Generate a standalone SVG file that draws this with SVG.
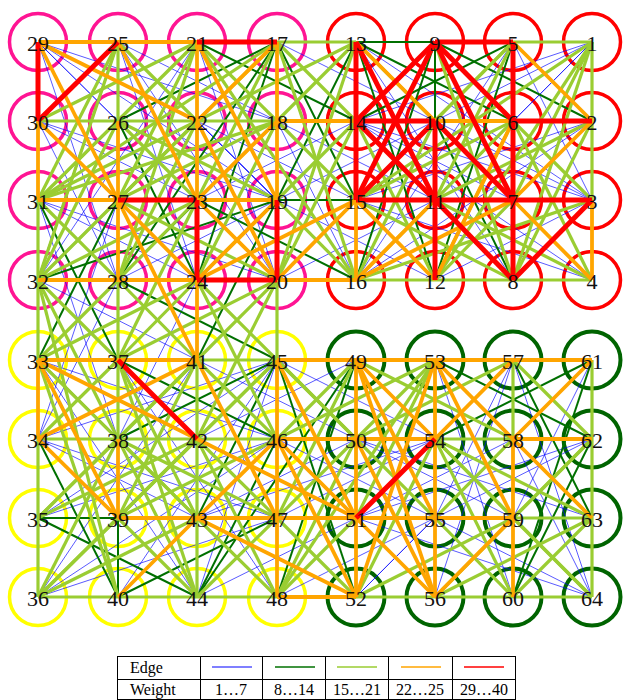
<svg xmlns="http://www.w3.org/2000/svg" width="625" height="700" viewBox="0 0 625 700">
<style>
.b{stroke:#0000ff;stroke-width:1;stroke-opacity:.65}
.g{stroke:#007000;stroke-width:2}
.l{stroke:#9acd32;stroke-width:3.2}
.o{stroke:#ffa500;stroke-width:3.8}
.r{stroke:#ff0000;stroke-width:5}
circle{fill:none;stroke-width:3.5}
.p{stroke:#ff1493}
.rd{stroke:#ff0000}
.y{stroke:#ffff00}
.dg{stroke:#006400;stroke-width:4}
text{font-family:"Liberation Serif","Times New Roman","DejaVu Serif",serif}
.node text{font-size:22px;text-anchor:middle;fill:#111}
.lg text{font-size:16px;fill:#000}
.lg line.t{stroke:#000;stroke-width:1}
</style>
<rect width="625" height="700" fill="#fff"/>
<g id="rings">
<circle class="p" cx="38" cy="42" r="28.5"/><circle class="p" cx="118" cy="42" r="28.5"/><circle class="p" cx="197" cy="42" r="28.5"/><circle class="p" cx="277" cy="42" r="28.5"/>
<circle class="p" cx="38" cy="121" r="28.5"/><circle class="p" cx="118" cy="121" r="28.5"/><circle class="p" cx="197" cy="121" r="28.5"/><circle class="p" cx="277" cy="121" r="28.5"/>
<circle class="p" cx="38" cy="200" r="28.5"/><circle class="p" cx="118" cy="200" r="28.5"/><circle class="p" cx="197" cy="200" r="28.5"/><circle class="p" cx="277" cy="200" r="28.5"/>
<circle class="p" cx="38" cy="280" r="28.5"/><circle class="p" cx="118" cy="280" r="28.5"/><circle class="p" cx="197" cy="280" r="28.5"/><circle class="p" cx="277" cy="280" r="28.5"/>
<circle class="rd" cx="356" cy="42" r="28.5"/><circle class="rd" cx="435" cy="42" r="28.5"/><circle class="rd" cx="513" cy="42" r="28.5"/><circle class="rd" cx="592" cy="42" r="28.5"/>
<circle class="rd" cx="356" cy="121" r="28.5"/><circle class="rd" cx="435" cy="121" r="28.5"/><circle class="rd" cx="513" cy="121" r="28.5"/><circle class="rd" cx="592" cy="121" r="28.5"/>
<circle class="rd" cx="356" cy="200" r="28.5"/><circle class="rd" cx="435" cy="200" r="28.5"/><circle class="rd" cx="513" cy="200" r="28.5"/><circle class="rd" cx="592" cy="200" r="28.5"/>
<circle class="rd" cx="356" cy="280" r="28.5"/><circle class="rd" cx="435" cy="280" r="28.5"/><circle class="rd" cx="513" cy="280" r="28.5"/><circle class="rd" cx="592" cy="280" r="28.5"/>
<circle class="y" cx="38" cy="360" r="28.5"/><circle class="y" cx="118" cy="360" r="28.5"/><circle class="y" cx="197" cy="360" r="28.5"/><circle class="y" cx="277" cy="360" r="28.5"/>
<circle class="y" cx="38" cy="439" r="28.5"/><circle class="y" cx="118" cy="439" r="28.5"/><circle class="y" cx="197" cy="439" r="28.5"/><circle class="y" cx="277" cy="439" r="28.5"/>
<circle class="y" cx="38" cy="518" r="28.5"/><circle class="y" cx="118" cy="518" r="28.5"/><circle class="y" cx="197" cy="518" r="28.5"/><circle class="y" cx="277" cy="518" r="28.5"/>
<circle class="y" cx="38" cy="597" r="28.5"/><circle class="y" cx="118" cy="597" r="28.5"/><circle class="y" cx="197" cy="597" r="28.5"/><circle class="y" cx="277" cy="597" r="28.5"/>
<circle class="dg" cx="356" cy="360" r="28.5"/><circle class="dg" cx="435" cy="360" r="28.5"/><circle class="dg" cx="513" cy="360" r="28.5"/><circle class="dg" cx="592" cy="360" r="28.5"/>
<circle class="dg" cx="356" cy="439" r="28.5"/><circle class="dg" cx="435" cy="439" r="28.5"/><circle class="dg" cx="513" cy="439" r="28.5"/><circle class="dg" cx="592" cy="439" r="28.5"/>
<circle class="dg" cx="356" cy="518" r="28.5"/><circle class="dg" cx="435" cy="518" r="28.5"/><circle class="dg" cx="513" cy="518" r="28.5"/><circle class="dg" cx="592" cy="518" r="28.5"/>
<circle class="dg" cx="356" cy="597" r="28.5"/><circle class="dg" cx="435" cy="597" r="28.5"/><circle class="dg" cx="513" cy="597" r="28.5"/><circle class="dg" cx="592" cy="597" r="28.5"/>
</g>
<g id="connectors">
<g id="w1-7">
<line class="b" x1="38" y1="42" x2="277" y2="121"/><line class="b" x1="38" y1="42" x2="118" y2="121"/><line class="b" x1="38" y1="42" x2="197" y2="200"/><line class="b" x1="38" y1="42" x2="118" y2="280"/><line class="b" x1="38" y1="121" x2="277" y2="200"/><line class="b" x1="38" y1="121" x2="197" y2="280"/><line class="b" x1="38" y1="121" x2="118" y2="280"/><line class="b" x1="118" y1="42" x2="277" y2="121"/><line class="b" x1="118" y1="42" x2="197" y2="280"/><line class="b" x1="118" y1="42" x2="277" y2="280"/><line class="b" x1="118" y1="42" x2="277" y2="200"/><line class="b" x1="197" y1="42" x2="277" y2="280"/><line class="b" x1="197" y1="42" x2="38" y2="280"/><line class="b" x1="118" y1="121" x2="277" y2="280"/><line class="b" x1="38" y1="200" x2="197" y2="280"/><line class="b" x1="38" y1="200" x2="277" y2="280"/><line class="b" x1="38" y1="200" x2="197" y2="121"/><line class="b" x1="118" y1="280" x2="277" y2="200"/><line class="b" x1="197" y1="121" x2="277" y2="200"/><line class="b" x1="197" y1="200" x2="277" y2="121"/><line class="b" x1="38" y1="280" x2="118" y2="121"/><line class="b" x1="38" y1="121" x2="197" y2="200"/><line class="b" x1="118" y1="280" x2="197" y2="121"/><line class="b" x1="38" y1="42" x2="277" y2="200"/><line class="b" x1="118" y1="121" x2="277" y2="42"/>
<line class="b" x1="592" y1="42" x2="435" y2="121"/><line class="b" x1="592" y1="42" x2="513" y2="121"/><line class="b" x1="592" y1="42" x2="356" y2="121"/><line class="b" x1="592" y1="42" x2="435" y2="200"/><line class="b" x1="592" y1="121" x2="435" y2="280"/><line class="b" x1="592" y1="121" x2="356" y2="280"/><line class="b" x1="592" y1="280" x2="513" y2="121"/><line class="b" x1="592" y1="280" x2="513" y2="200"/><line class="b" x1="592" y1="280" x2="356" y2="200"/><line class="b" x1="592" y1="200" x2="435" y2="280"/><line class="b" x1="592" y1="200" x2="356" y2="121"/><line class="b" x1="592" y1="200" x2="435" y2="121"/><line class="b" x1="592" y1="121" x2="356" y2="200"/><line class="b" x1="435" y1="42" x2="592" y2="200"/><line class="b" x1="513" y1="42" x2="592" y2="200"/><line class="b" x1="356" y1="121" x2="513" y2="200"/><line class="b" x1="356" y1="200" x2="513" y2="121"/><line class="b" x1="435" y1="121" x2="592" y2="280"/><line class="b" x1="356" y1="42" x2="513" y2="280"/><line class="b" x1="356" y1="42" x2="592" y2="200"/><line class="b" x1="513" y1="42" x2="356" y2="280"/><line class="b" x1="356" y1="121" x2="592" y2="280"/><line class="b" x1="435" y1="200" x2="592" y2="121"/>
<line class="b" x1="277" y1="200" x2="435" y2="280"/><line class="b" x1="277" y1="121" x2="356" y2="280"/><line class="b" x1="277" y1="42" x2="435" y2="121"/><line class="b" x1="277" y1="280" x2="435" y2="200"/><line class="b" x1="197" y1="121" x2="356" y2="200"/><line class="b" x1="197" y1="200" x2="356" y2="121"/><line class="b" x1="277" y1="42" x2="435" y2="200"/><line class="b" x1="277" y1="121" x2="435" y2="280"/><line class="b" x1="277" y1="200" x2="435" y2="121"/><line class="b" x1="277" y1="280" x2="435" y2="121"/><line class="b" x1="197" y1="121" x2="356" y2="280"/><line class="b" x1="197" y1="280" x2="356" y2="121"/><line class="b" x1="277" y1="121" x2="435" y2="200"/><line class="b" x1="197" y1="200" x2="356" y2="42"/>
<line class="b" x1="38" y1="280" x2="197" y2="360"/><line class="b" x1="118" y1="280" x2="38" y2="439"/><line class="b" x1="197" y1="280" x2="118" y2="439"/><line class="b" x1="38" y1="200" x2="118" y2="439"/><line class="b" x1="118" y1="200" x2="277" y2="360"/><line class="b" x1="277" y1="200" x2="118" y2="360"/><line class="b" x1="118" y1="200" x2="38" y2="439"/><line class="b" x1="38" y1="280" x2="197" y2="439"/>
<line class="b" x1="38" y1="597" x2="197" y2="360"/><line class="b" x1="38" y1="597" x2="277" y2="360"/><line class="b" x1="38" y1="597" x2="277" y2="439"/><line class="b" x1="38" y1="597" x2="277" y2="518"/><line class="b" x1="38" y1="518" x2="277" y2="439"/><line class="b" x1="38" y1="439" x2="277" y2="518"/><line class="b" x1="38" y1="439" x2="197" y2="518"/><line class="b" x1="38" y1="360" x2="197" y2="597"/><line class="b" x1="118" y1="360" x2="277" y2="597"/><line class="b" x1="118" y1="439" x2="277" y2="597"/><line class="b" x1="197" y1="597" x2="277" y2="360"/><line class="b" x1="118" y1="597" x2="277" y2="439"/><line class="b" x1="118" y1="597" x2="277" y2="360"/><line class="b" x1="118" y1="360" x2="277" y2="518"/><line class="b" x1="38" y1="518" x2="277" y2="360"/><line class="b" x1="38" y1="360" x2="277" y2="439"/><line class="b" x1="38" y1="439" x2="277" y2="360"/>
<line class="b" x1="197" y1="518" x2="435" y2="439"/><line class="b" x1="197" y1="597" x2="356" y2="518"/><line class="b" x1="277" y1="597" x2="435" y2="439"/><line class="b" x1="277" y1="439" x2="435" y2="597"/><line class="b" x1="197" y1="360" x2="356" y2="439"/><line class="b" x1="197" y1="597" x2="356" y2="439"/><line class="b" x1="197" y1="518" x2="356" y2="439"/><line class="b" x1="197" y1="439" x2="356" y2="360"/><line class="b" x1="277" y1="597" x2="435" y2="518"/><line class="b" x1="277" y1="518" x2="435" y2="439"/><line class="b" x1="277" y1="439" x2="435" y2="518"/><line class="b" x1="277" y1="360" x2="435" y2="439"/>
<line class="b" x1="513" y1="597" x2="435" y2="360"/><line class="b" x1="513" y1="360" x2="435" y2="518"/><line class="b" x1="513" y1="360" x2="435" y2="597"/><line class="b" x1="592" y1="360" x2="513" y2="518"/><line class="b" x1="592" y1="597" x2="435" y2="518"/><line class="b" x1="592" y1="597" x2="356" y2="518"/><line class="b" x1="592" y1="597" x2="513" y2="439"/><line class="b" x1="592" y1="439" x2="356" y2="518"/><line class="b" x1="592" y1="439" x2="435" y2="518"/><line class="b" x1="513" y1="439" x2="356" y2="518"/><line class="b" x1="513" y1="439" x2="356" y2="597"/><line class="b" x1="435" y1="518" x2="356" y2="439"/><line class="b" x1="356" y1="597" x2="435" y2="518"/><line class="b" x1="592" y1="360" x2="435" y2="518"/><line class="b" x1="592" y1="518" x2="356" y2="439"/><line class="b" x1="513" y1="518" x2="356" y2="439"/><line class="b" x1="513" y1="360" x2="592" y2="597"/>
</g>
<g id="w8-14">
<line class="g" x1="197" y1="42" x2="118" y2="121"/><line class="g" x1="118" y1="121" x2="197" y2="280"/><line class="g" x1="277" y1="42" x2="118" y2="121"/><line class="g" x1="38" y1="280" x2="118" y2="42"/><line class="g" x1="38" y1="280" x2="118" y2="200"/><line class="g" x1="38" y1="200" x2="118" y2="121"/><line class="g" x1="277" y1="42" x2="118" y2="280"/><line class="g" x1="197" y1="121" x2="38" y2="280"/><line class="g" x1="277" y1="121" x2="118" y2="280"/><line class="g" x1="277" y1="200" x2="38" y2="280"/><line class="g" x1="277" y1="42" x2="197" y2="280"/><line class="g" x1="197" y1="200" x2="356" y2="280"/>
<line class="g" x1="356" y1="42" x2="435" y2="42"/><line class="g" x1="435" y1="42" x2="435" y2="121"/><line class="g" x1="435" y1="42" x2="592" y2="121"/><line class="g" x1="356" y1="42" x2="513" y2="121"/><line class="g" x1="513" y1="42" x2="356" y2="121"/><line class="g" x1="435" y1="42" x2="356" y2="280"/><line class="g" x1="435" y1="121" x2="513" y2="280"/><line class="g" x1="513" y1="42" x2="435" y2="280"/><line class="g" x1="356" y1="42" x2="435" y2="280"/><line class="g" x1="513" y1="121" x2="435" y2="200"/>
<line class="g" x1="277" y1="200" x2="356" y2="200"/><line class="g" x1="277" y1="42" x2="356" y2="200"/><line class="g" x1="277" y1="200" x2="356" y2="42"/><line class="g" x1="197" y1="42" x2="356" y2="121"/>
<line class="g" x1="118" y1="280" x2="277" y2="360"/><line class="g" x1="38" y1="200" x2="118" y2="360"/><line class="g" x1="277" y1="200" x2="197" y2="360"/><line class="g" x1="118" y1="200" x2="38" y2="360"/>
<line class="g" x1="38" y1="518" x2="118" y2="518"/><line class="g" x1="118" y1="518" x2="118" y2="597"/><line class="g" x1="38" y1="360" x2="118" y2="439"/><line class="g" x1="118" y1="360" x2="277" y2="439"/><line class="g" x1="38" y1="518" x2="197" y2="597"/><line class="g" x1="118" y1="597" x2="277" y2="518"/><line class="g" x1="197" y1="597" x2="277" y2="439"/><line class="g" x1="118" y1="439" x2="277" y2="360"/><line class="g" x1="38" y1="439" x2="118" y2="597"/><line class="g" x1="197" y1="518" x2="277" y2="360"/>
<line class="g" x1="277" y1="597" x2="356" y2="360"/><line class="g" x1="277" y1="360" x2="356" y2="597"/><line class="g" x1="197" y1="597" x2="356" y2="360"/>
<line class="g" x1="435" y1="360" x2="592" y2="439"/><line class="g" x1="435" y1="439" x2="592" y2="360"/><line class="g" x1="513" y1="360" x2="592" y2="518"/><line class="g" x1="513" y1="597" x2="592" y2="439"/><line class="g" x1="513" y1="597" x2="592" y2="360"/>
</g>
<g id="w15-21">
<line class="l" x1="38" y1="121" x2="118" y2="121"/><line class="l" x1="118" y1="121" x2="197" y2="121"/><line class="l" x1="197" y1="121" x2="277" y2="121"/><line class="l" x1="38" y1="200" x2="38" y2="280"/><line class="l" x1="118" y1="42" x2="118" y2="121"/>
<line class="l" x1="118" y1="42" x2="38" y2="200"/><line class="l" x1="118" y1="42" x2="38" y2="280"/><line class="l" x1="197" y1="42" x2="38" y2="200"/><line class="l" x1="197" y1="42" x2="118" y2="200"/><line class="l" x1="197" y1="42" x2="118" y2="280"/><line class="l" x1="277" y1="42" x2="118" y2="200"/><line class="l" x1="277" y1="42" x2="197" y2="200"/><line class="l" x1="118" y1="121" x2="197" y2="200"/><line class="l" x1="118" y1="121" x2="38" y2="280"/><line class="l" x1="197" y1="121" x2="118" y2="200"/><line class="l" x1="197" y1="121" x2="38" y2="200"/><line class="l" x1="197" y1="121" x2="118" y2="280"/><line class="l" x1="277" y1="121" x2="118" y2="200"/><line class="l" x1="277" y1="121" x2="38" y2="200"/><line class="l" x1="197" y1="280" x2="277" y2="121"/><line class="l" x1="277" y1="200" x2="118" y2="121"/><line class="l" x1="277" y1="200" x2="197" y2="280"/><line class="l" x1="197" y1="200" x2="118" y2="280"/><line class="l" x1="118" y1="200" x2="38" y2="280"/><line class="l" x1="38" y1="200" x2="118" y2="280"/><line class="l" x1="277" y1="280" x2="118" y2="200"/><line class="l" x1="38" y1="280" x2="197" y2="200"/><line class="l" x1="197" y1="42" x2="277" y2="121"/><line class="l" x1="118" y1="42" x2="197" y2="121"/><line class="l" x1="277" y1="42" x2="38" y2="200"/><line class="l" x1="197" y1="42" x2="38" y2="121"/>
<line class="l" x1="277" y1="42" x2="356" y2="42"/><line class="l" x1="513" y1="42" x2="592" y2="42"/><line class="l" x1="592" y1="42" x2="592" y2="121"/><line class="l" x1="592" y1="121" x2="592" y2="200"/><line class="l" x1="356" y1="280" x2="435" y2="280"/><line class="l" x1="435" y1="280" x2="513" y2="280"/><line class="l" x1="513" y1="280" x2="592" y2="280"/>
<line class="l" x1="435" y1="42" x2="513" y2="280"/><line class="l" x1="592" y1="42" x2="513" y2="200"/><line class="l" x1="592" y1="42" x2="513" y2="280"/><line class="l" x1="513" y1="121" x2="592" y2="200"/><line class="l" x1="513" y1="121" x2="592" y2="280"/><line class="l" x1="513" y1="121" x2="356" y2="280"/><line class="l" x1="513" y1="121" x2="356" y2="200"/><line class="l" x1="513" y1="121" x2="435" y2="280"/><line class="l" x1="592" y1="121" x2="513" y2="280"/><line class="l" x1="592" y1="200" x2="356" y2="280"/><line class="l" x1="435" y1="121" x2="356" y2="280"/><line class="l" x1="356" y1="121" x2="435" y2="280"/><line class="l" x1="356" y1="200" x2="513" y2="280"/><line class="l" x1="513" y1="200" x2="435" y2="280"/><line class="l" x1="356" y1="42" x2="513" y2="200"/><line class="l" x1="592" y1="121" x2="435" y2="200"/><line class="l" x1="592" y1="280" x2="435" y2="200"/><line class="l" x1="513" y1="42" x2="356" y2="200"/><line class="l" x1="435" y1="42" x2="356" y2="121"/><line class="l" x1="356" y1="121" x2="513" y2="280"/><line class="l" x1="513" y1="42" x2="435" y2="121"/><line class="l" x1="513" y1="42" x2="435" y2="200"/><line class="l" x1="592" y1="42" x2="356" y2="200"/><line class="l" x1="592" y1="42" x2="435" y2="280"/>
<line class="l" x1="277" y1="42" x2="356" y2="121"/><line class="l" x1="277" y1="121" x2="356" y2="42"/><line class="l" x1="277" y1="200" x2="356" y2="121"/><line class="l" x1="277" y1="200" x2="356" y2="280"/><line class="l" x1="277" y1="280" x2="356" y2="121"/><line class="l" x1="277" y1="121" x2="356" y2="200"/><line class="l" x1="277" y1="42" x2="356" y2="280"/><line class="l" x1="277" y1="280" x2="356" y2="42"/><line class="l" x1="197" y1="121" x2="356" y2="42"/><line class="l" x1="197" y1="42" x2="356" y2="280"/>
<line class="l" x1="38" y1="280" x2="38" y2="360"/><line class="l" x1="118" y1="280" x2="118" y2="360"/><line class="l" x1="277" y1="280" x2="277" y2="360"/><line class="l" x1="38" y1="280" x2="118" y2="439"/><line class="l" x1="118" y1="280" x2="38" y2="360"/><line class="l" x1="118" y1="280" x2="197" y2="360"/><line class="l" x1="197" y1="280" x2="118" y2="360"/><line class="l" x1="197" y1="280" x2="38" y2="360"/><line class="l" x1="197" y1="280" x2="277" y2="360"/><line class="l" x1="277" y1="280" x2="197" y2="360"/><line class="l" x1="197" y1="200" x2="118" y2="360"/><line class="l" x1="277" y1="280" x2="118" y2="360"/><line class="l" x1="38" y1="280" x2="118" y2="597"/><line class="l" x1="197" y1="280" x2="277" y2="439"/><line class="l" x1="277" y1="280" x2="197" y2="439"/><line class="l" x1="38" y1="280" x2="118" y2="360"/>
<line class="l" x1="197" y1="360" x2="277" y2="360"/><line class="l" x1="38" y1="439" x2="118" y2="439"/><line class="l" x1="118" y1="439" x2="197" y2="439"/><line class="l" x1="197" y1="439" x2="277" y2="439"/><line class="l" x1="38" y1="597" x2="118" y2="597"/><line class="l" x1="118" y1="597" x2="197" y2="597"/><line class="l" x1="197" y1="597" x2="277" y2="597"/><line class="l" x1="38" y1="439" x2="38" y2="518"/><line class="l" x1="38" y1="518" x2="38" y2="597"/><line class="l" x1="118" y1="360" x2="118" y2="439"/><line class="l" x1="197" y1="360" x2="197" y2="439"/><line class="l" x1="197" y1="439" x2="197" y2="518"/><line class="l" x1="197" y1="518" x2="197" y2="597"/>
<line class="l" x1="118" y1="360" x2="38" y2="439"/><line class="l" x1="118" y1="360" x2="197" y2="597"/><line class="l" x1="118" y1="360" x2="197" y2="518"/><line class="l" x1="197" y1="360" x2="118" y2="439"/><line class="l" x1="197" y1="360" x2="38" y2="518"/><line class="l" x1="197" y1="360" x2="118" y2="518"/><line class="l" x1="277" y1="360" x2="197" y2="439"/><line class="l" x1="277" y1="360" x2="118" y2="518"/><line class="l" x1="118" y1="439" x2="38" y2="518"/><line class="l" x1="118" y1="439" x2="38" y2="597"/><line class="l" x1="118" y1="439" x2="197" y2="597"/><line class="l" x1="118" y1="439" x2="197" y2="518"/><line class="l" x1="118" y1="439" x2="277" y2="518"/><line class="l" x1="197" y1="439" x2="38" y2="518"/><line class="l" x1="197" y1="439" x2="38" y2="597"/><line class="l" x1="197" y1="439" x2="277" y2="518"/><line class="l" x1="197" y1="439" x2="277" y2="597"/><line class="l" x1="277" y1="439" x2="118" y2="518"/><line class="l" x1="277" y1="439" x2="197" y2="360"/><line class="l" x1="118" y1="518" x2="38" y2="597"/><line class="l" x1="118" y1="518" x2="197" y2="597"/><line class="l" x1="197" y1="518" x2="38" y2="597"/><line class="l" x1="197" y1="518" x2="277" y2="597"/><line class="l" x1="197" y1="597" x2="277" y2="518"/><line class="l" x1="118" y1="518" x2="197" y2="439"/><line class="l" x1="38" y1="360" x2="197" y2="518"/><line class="l" x1="38" y1="360" x2="118" y2="597"/>
<line class="l" x1="277" y1="360" x2="356" y2="439"/><line class="l" x1="277" y1="439" x2="356" y2="360"/><line class="l" x1="277" y1="518" x2="356" y2="360"/><line class="l" x1="277" y1="518" x2="356" y2="439"/><line class="l" x1="277" y1="518" x2="356" y2="597"/><line class="l" x1="277" y1="597" x2="356" y2="518"/><line class="l" x1="277" y1="597" x2="435" y2="360"/><line class="l" x1="277" y1="597" x2="356" y2="439"/><line class="l" x1="277" y1="439" x2="435" y2="360"/><line class="l" x1="277" y1="360" x2="435" y2="518"/>
<line class="l" x1="435" y1="439" x2="513" y2="439"/><line class="l" x1="513" y1="518" x2="592" y2="518"/><line class="l" x1="356" y1="597" x2="435" y2="597"/><line class="l" x1="435" y1="597" x2="513" y2="597"/><line class="l" x1="513" y1="597" x2="592" y2="597"/><line class="l" x1="513" y1="360" x2="513" y2="439"/><line class="l" x1="592" y1="360" x2="592" y2="439"/><line class="l" x1="592" y1="439" x2="592" y2="518"/><line class="l" x1="592" y1="518" x2="592" y2="597"/>
<line class="l" x1="435" y1="360" x2="356" y2="439"/><line class="l" x1="513" y1="360" x2="592" y2="439"/><line class="l" x1="435" y1="439" x2="513" y2="597"/><line class="l" x1="435" y1="439" x2="592" y2="518"/><line class="l" x1="435" y1="439" x2="513" y2="518"/><line class="l" x1="435" y1="439" x2="592" y2="597"/><line class="l" x1="435" y1="518" x2="513" y2="439"/><line class="l" x1="435" y1="518" x2="513" y2="597"/><line class="l" x1="513" y1="518" x2="592" y2="597"/><line class="l" x1="513" y1="518" x2="592" y2="439"/><line class="l" x1="513" y1="518" x2="356" y2="597"/><line class="l" x1="513" y1="597" x2="592" y2="518"/><line class="l" x1="592" y1="439" x2="435" y2="597"/><line class="l" x1="592" y1="518" x2="435" y2="597"/><line class="l" x1="356" y1="439" x2="513" y2="360"/><line class="l" x1="356" y1="518" x2="435" y2="360"/><line class="l" x1="356" y1="597" x2="435" y2="439"/><line class="l" x1="356" y1="360" x2="513" y2="439"/>
</g>
<g id="w22-25">
<line class="o" x1="38" y1="42" x2="118" y2="42"/><line class="o" x1="118" y1="42" x2="197" y2="42"/><line class="o" x1="38" y1="121" x2="38" y2="200"/><line class="o" x1="38" y1="200" x2="118" y2="200"/><line class="o" x1="38" y1="280" x2="118" y2="280"/><line class="o" x1="118" y1="280" x2="197" y2="280"/><line class="o" x1="118" y1="121" x2="118" y2="200"/><line class="o" x1="118" y1="200" x2="118" y2="280"/><line class="o" x1="197" y1="42" x2="197" y2="121"/><line class="o" x1="197" y1="121" x2="197" y2="200"/><line class="o" x1="277" y1="42" x2="277" y2="121"/><line class="o" x1="277" y1="121" x2="277" y2="200"/><line class="o" x1="197" y1="200" x2="277" y2="200"/><line class="o" x1="38" y1="42" x2="197" y2="121"/><line class="o" x1="38" y1="42" x2="118" y2="200"/><line class="o" x1="38" y1="121" x2="118" y2="200"/><line class="o" x1="118" y1="42" x2="197" y2="200"/><line class="o" x1="277" y1="42" x2="197" y2="121"/><line class="o" x1="197" y1="42" x2="277" y2="200"/><line class="o" x1="197" y1="121" x2="277" y2="280"/><line class="o" x1="277" y1="121" x2="197" y2="200"/><line class="o" x1="118" y1="200" x2="197" y2="280"/><line class="o" x1="197" y1="280" x2="277" y2="200"/><line class="o" x1="197" y1="200" x2="277" y2="280"/>
<line class="o" x1="277" y1="121" x2="356" y2="121"/><line class="o" x1="277" y1="280" x2="356" y2="280"/><line class="o" x1="197" y1="280" x2="356" y2="200"/><line class="o" x1="277" y1="280" x2="356" y2="200"/><line class="o" x1="197" y1="280" x2="197" y2="360"/><line class="o" x1="118" y1="200" x2="197" y2="360"/>
<line class="o" x1="435" y1="121" x2="513" y2="121"/><line class="o" x1="356" y1="200" x2="356" y2="280"/><line class="o" x1="592" y1="200" x2="592" y2="280"/><line class="o" x1="356" y1="42" x2="435" y2="121"/><line class="o" x1="513" y1="42" x2="592" y2="121"/><line class="o" x1="592" y1="121" x2="513" y2="200"/><line class="o" x1="513" y1="200" x2="592" y2="280"/><line class="o" x1="356" y1="280" x2="513" y2="200"/><line class="o" x1="435" y1="280" x2="513" y2="121"/><line class="o" x1="435" y1="200" x2="356" y2="280"/><line class="o" x1="356" y1="200" x2="435" y2="280"/>
<line class="o" x1="38" y1="360" x2="118" y2="360"/><line class="o" x1="118" y1="360" x2="197" y2="360"/><line class="o" x1="38" y1="360" x2="38" y2="439"/><line class="o" x1="118" y1="439" x2="118" y2="518"/><line class="o" x1="118" y1="518" x2="197" y2="518"/><line class="o" x1="197" y1="518" x2="277" y2="518"/><line class="o" x1="277" y1="360" x2="277" y2="439"/><line class="o" x1="277" y1="439" x2="277" y2="518"/><line class="o" x1="277" y1="518" x2="277" y2="597"/><line class="o" x1="38" y1="360" x2="197" y2="439"/><line class="o" x1="38" y1="360" x2="118" y2="518"/><line class="o" x1="38" y1="439" x2="197" y2="360"/><line class="o" x1="38" y1="439" x2="118" y2="518"/><line class="o" x1="197" y1="518" x2="118" y2="597"/><line class="o" x1="197" y1="360" x2="277" y2="518"/><line class="o" x1="277" y1="439" x2="197" y2="518"/>
<line class="o" x1="277" y1="360" x2="356" y2="360"/><line class="o" x1="277" y1="439" x2="356" y2="439"/><line class="o" x1="277" y1="518" x2="356" y2="518"/><line class="o" x1="277" y1="597" x2="356" y2="597"/><line class="o" x1="197" y1="439" x2="356" y2="518"/><line class="o" x1="197" y1="518" x2="356" y2="597"/><line class="o" x1="277" y1="360" x2="356" y2="518"/><line class="o" x1="277" y1="439" x2="356" y2="597"/><line class="o" x1="277" y1="439" x2="356" y2="518"/>
<line class="o" x1="356" y1="360" x2="435" y2="360"/><line class="o" x1="435" y1="360" x2="513" y2="360"/><line class="o" x1="513" y1="360" x2="592" y2="360"/><line class="o" x1="356" y1="439" x2="435" y2="439"/><line class="o" x1="513" y1="439" x2="592" y2="439"/><line class="o" x1="356" y1="518" x2="435" y2="518"/><line class="o" x1="435" y1="518" x2="513" y2="518"/><line class="o" x1="356" y1="360" x2="356" y2="439"/><line class="o" x1="356" y1="439" x2="356" y2="518"/><line class="o" x1="356" y1="518" x2="356" y2="597"/><line class="o" x1="435" y1="360" x2="435" y2="439"/><line class="o" x1="435" y1="439" x2="435" y2="518"/><line class="o" x1="435" y1="518" x2="435" y2="597"/><line class="o" x1="513" y1="439" x2="513" y2="518"/><line class="o" x1="513" y1="518" x2="513" y2="597"/><line class="o" x1="356" y1="360" x2="435" y2="518"/><line class="o" x1="356" y1="439" x2="435" y2="597"/><line class="o" x1="435" y1="360" x2="356" y2="597"/><line class="o" x1="435" y1="360" x2="513" y2="518"/><line class="o" x1="435" y1="360" x2="513" y2="439"/><line class="o" x1="435" y1="439" x2="513" y2="360"/><line class="o" x1="513" y1="439" x2="592" y2="360"/><line class="o" x1="513" y1="439" x2="592" y2="518"/><line class="o" x1="435" y1="597" x2="513" y2="518"/><line class="o" x1="356" y1="518" x2="435" y2="597"/><line class="o" x1="356" y1="360" x2="435" y2="597"/><line class="o" x1="435" y1="439" x2="356" y2="360"/>
</g>
<g id="w29-40">
<line class="r" x1="38" y1="42" x2="38" y2="121"/><line class="r" x1="38" y1="121" x2="118" y2="42"/><line class="r" x1="197" y1="42" x2="277" y2="42"/><line class="r" x1="118" y1="200" x2="197" y2="200"/><line class="r" x1="197" y1="200" x2="197" y2="280"/><line class="r" x1="197" y1="280" x2="277" y2="280"/><line class="r" x1="277" y1="200" x2="277" y2="280"/>
<line class="r" x1="356" y1="42" x2="356" y2="121"/><line class="r" x1="356" y1="121" x2="356" y2="200"/><line class="r" x1="356" y1="121" x2="435" y2="121"/><line class="r" x1="435" y1="42" x2="513" y2="42"/><line class="r" x1="513" y1="121" x2="592" y2="121"/><line class="r" x1="513" y1="42" x2="513" y2="121"/><line class="r" x1="513" y1="121" x2="513" y2="200"/><line class="r" x1="513" y1="200" x2="513" y2="280"/><line class="r" x1="435" y1="121" x2="435" y2="200"/><line class="r" x1="435" y1="200" x2="435" y2="280"/><line class="r" x1="356" y1="200" x2="435" y2="200"/><line class="r" x1="435" y1="200" x2="513" y2="200"/><line class="r" x1="513" y1="200" x2="592" y2="200"/><line class="r" x1="592" y1="200" x2="513" y2="280"/><line class="r" x1="435" y1="42" x2="356" y2="200"/><line class="r" x1="356" y1="42" x2="435" y2="200"/><line class="r" x1="356" y1="121" x2="435" y2="200"/><line class="r" x1="435" y1="121" x2="356" y2="200"/><line class="r" x1="435" y1="42" x2="513" y2="200"/><line class="r" x1="435" y1="42" x2="513" y2="121"/><line class="r" x1="435" y1="121" x2="513" y2="200"/><line class="r" x1="435" y1="200" x2="513" y2="280"/><line class="r" x1="356" y1="121" x2="435" y2="42"/>
<line class="r" x1="118" y1="360" x2="197" y2="439"/><line class="r" x1="356" y1="518" x2="435" y2="439"/>
</g>
</g>
<g id="nodes">
<g id="n29" class="node"><text x="38" y="51">29</text></g>
<g id="n25" class="node"><text x="118" y="51">25</text></g>
<g id="n21" class="node"><text x="197" y="51">21</text></g>
<g id="n17" class="node"><text x="277" y="51">17</text></g>
<g id="n30" class="node"><text x="38" y="130">30</text></g>
<g id="n26" class="node"><text x="118" y="130">26</text></g>
<g id="n22" class="node"><text x="197" y="130">22</text></g>
<g id="n18" class="node"><text x="277" y="130">18</text></g>
<g id="n31" class="node"><text x="38" y="209">31</text></g>
<g id="n27" class="node"><text x="118" y="209">27</text></g>
<g id="n23" class="node"><text x="197" y="209">23</text></g>
<g id="n19" class="node"><text x="277" y="209">19</text></g>
<g id="n32" class="node"><text x="38" y="289">32</text></g>
<g id="n28" class="node"><text x="118" y="289">28</text></g>
<g id="n24" class="node"><text x="197" y="289">24</text></g>
<g id="n20" class="node"><text x="277" y="289">20</text></g>
<g id="n13" class="node"><text x="356" y="51">13</text></g>
<g id="n9" class="node"><text x="435" y="51">9</text></g>
<g id="n5" class="node"><text x="513" y="51">5</text></g>
<g id="n1" class="node"><text x="592" y="51">1</text></g>
<g id="n14" class="node"><text x="356" y="130">14</text></g>
<g id="n10" class="node"><text x="435" y="130">10</text></g>
<g id="n6" class="node"><text x="513" y="130">6</text></g>
<g id="n2" class="node"><text x="592" y="130">2</text></g>
<g id="n15" class="node"><text x="356" y="209">15</text></g>
<g id="n11" class="node"><text x="435" y="209">11</text></g>
<g id="n7" class="node"><text x="513" y="209">7</text></g>
<g id="n3" class="node"><text x="592" y="209">3</text></g>
<g id="n16" class="node"><text x="356" y="289">16</text></g>
<g id="n12" class="node"><text x="435" y="289">12</text></g>
<g id="n8" class="node"><text x="513" y="289">8</text></g>
<g id="n4" class="node"><text x="592" y="289">4</text></g>
<g id="n33" class="node"><text x="38" y="369">33</text></g>
<g id="n37" class="node"><text x="118" y="369">37</text></g>
<g id="n41" class="node"><text x="197" y="369">41</text></g>
<g id="n45" class="node"><text x="277" y="369">45</text></g>
<g id="n34" class="node"><text x="38" y="448">34</text></g>
<g id="n38" class="node"><text x="118" y="448">38</text></g>
<g id="n42" class="node"><text x="197" y="448">42</text></g>
<g id="n46" class="node"><text x="277" y="448">46</text></g>
<g id="n35" class="node"><text x="38" y="527">35</text></g>
<g id="n39" class="node"><text x="118" y="527">39</text></g>
<g id="n43" class="node"><text x="197" y="527">43</text></g>
<g id="n47" class="node"><text x="277" y="527">47</text></g>
<g id="n36" class="node"><text x="38" y="606">36</text></g>
<g id="n40" class="node"><text x="118" y="606">40</text></g>
<g id="n44" class="node"><text x="197" y="606">44</text></g>
<g id="n48" class="node"><text x="277" y="606">48</text></g>
<g id="n49" class="node"><text x="356" y="369">49</text></g>
<g id="n53" class="node"><text x="435" y="369">53</text></g>
<g id="n57" class="node"><text x="513" y="369">57</text></g>
<g id="n61" class="node"><text x="592" y="369">61</text></g>
<g id="n50" class="node"><text x="356" y="448">50</text></g>
<g id="n54" class="node"><text x="435" y="448">54</text></g>
<g id="n58" class="node"><text x="513" y="448">58</text></g>
<g id="n62" class="node"><text x="592" y="448">62</text></g>
<g id="n51" class="node"><text x="356" y="527">51</text></g>
<g id="n55" class="node"><text x="435" y="527">55</text></g>
<g id="n59" class="node"><text x="513" y="527">59</text></g>
<g id="n63" class="node"><text x="592" y="527">63</text></g>
<g id="n52" class="node"><text x="356" y="606">52</text></g>
<g id="n56" class="node"><text x="435" y="606">56</text></g>
<g id="n60" class="node"><text x="513" y="606">60</text></g>
<g id="n64" class="node"><text x="592" y="606">64</text></g>
</g>
<g id="legend" class="lg">
<line class="t" x1="117" y1="656.5" x2="516" y2="656.5"/><line class="t" x1="117" y1="679.5" x2="516" y2="679.5"/><line class="t" x1="117" y1="699.5" x2="516" y2="699.5"/>
<line class="t" x1="117.5" y1="656" x2="117.5" y2="700"/><line class="t" x1="200.5" y1="656" x2="200.5" y2="700"/><line class="t" x1="262.5" y1="656" x2="262.5" y2="700"/><line class="t" x1="325.5" y1="656" x2="325.5" y2="700"/><line class="t" x1="388.5" y1="656" x2="388.5" y2="700"/><line class="t" x1="452.5" y1="656" x2="452.5" y2="700"/><line class="t" x1="515.5" y1="656" x2="515.5" y2="700"/>
<line x1="212" y1="667" x2="252" y2="667" stroke="#0000ff" stroke-width="1.2"/>
<line x1="275" y1="667" x2="315" y2="667" stroke="#007000" stroke-width="1.5"/>
<line x1="337" y1="667" x2="377" y2="667" stroke="#9acd32" stroke-width="1.5"/>
<line x1="401" y1="667" x2="441" y2="667" stroke="#ffa500" stroke-width="1.5"/>
<line x1="464" y1="667" x2="504" y2="667" stroke="#ff0000" stroke-width="1.5"/>
<text x="130" y="673">Edge</text>
<text x="130" y="695">Weight</text>
<text x="231" y="695" text-anchor="middle">1…7</text>
<text x="294" y="695" text-anchor="middle">8…14</text>
<text x="357" y="695" text-anchor="middle">15…21</text>
<text x="420" y="695" text-anchor="middle">22…25</text>
<text x="484" y="695" text-anchor="middle">29…40</text>
</g>
</svg>
